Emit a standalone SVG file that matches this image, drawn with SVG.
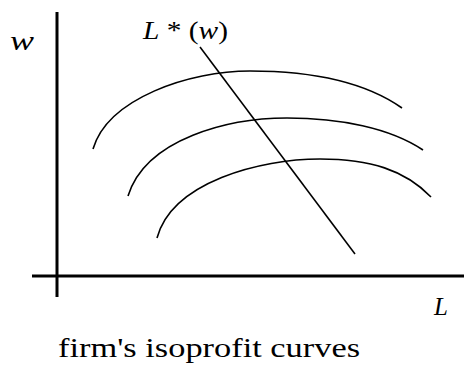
<svg xmlns="http://www.w3.org/2000/svg" width="464" height="370" viewBox="0 0 464 370">
<style>
.c{fill:none;stroke:#000;stroke-width:1.6}
.ax{fill:none;stroke:#000;stroke-width:3}
</style>
<rect width="464" height="370" fill="#fff"/>
<g id="axes">
<line class="ax" x1="57" y1="12" x2="57" y2="297"/>
<line class="ax" x1="32" y1="276" x2="464" y2="276"/>
</g>
<g id="curves">
<path class="c" d="M93,149 C108,98 190,71 250,71 C310,71 365,82 402,108"/>
<path class="c" d="M128,196 C146,138 230,118 287,118 C340,118 390,128 423,150"/>
<path class="c" d="M157,238 C172,182 260,159 320,159 C370,159 405,170 431,197"/>
</g>
<g id="connectors">
<line class="c" x1="200" y1="47" x2="355" y2="254"/>
</g>
<g id="labels" font-family="'Liberation Serif', 'DejaVu Serif', serif" fill="#000">
<text x="10" y="50" font-size="28" font-style="italic" textLength="24" lengthAdjust="spacingAndGlyphs">w</text>
<text x="143" y="39" font-size="26" textLength="85" lengthAdjust="spacingAndGlyphs"><tspan font-style="italic">L</tspan> * (<tspan font-style="italic">w</tspan>)</text>
<text x="434" y="315" font-size="25" font-style="italic">L</text>
<text x="58" y="357" font-size="28" textLength="302" lengthAdjust="spacingAndGlyphs">firm's isoprofit curves</text>
</g>
</svg>
